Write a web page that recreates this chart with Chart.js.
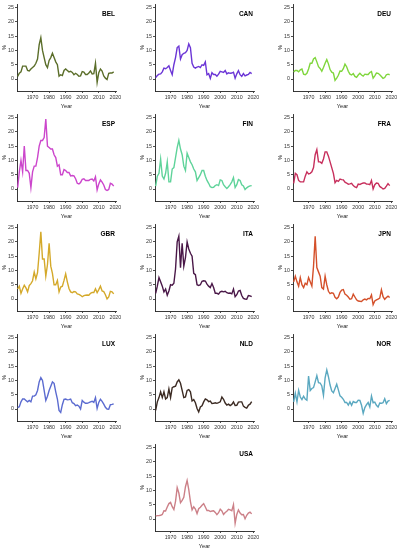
<!DOCTYPE html>
<html>
<head>
<meta charset="utf-8">
<script src="https://cdn.jsdelivr.net/npm/chart.js@4/dist/chart.umd.min.js"></script>
<style>
  body { margin: 0; background: #fff; }
  #wrap { position: relative; width: 399px; height: 550px; }
  canvas { position: absolute; }
</style>
</head>
<body>
<div id="wrap"></div>
<script>
// annual inflation, %, 1961-2019
var years = [1961,1962,1963,1964,1965,1966,1967,1968,1969,1970,
  1971,1972,1973,1974,1975,1976,1977,1978,1979,1980,
  1981,1982,1983,1984,1985,1986,1987,1988,1989,1990,
  1991,1992,1993,1994,1995,1996,1997,1998,1999,2000,
  2001,2002,2003,2004,2005,2006,2007,2008,2009,2010,
  2011,2012,2013,2014,2015,2016,2017,2018,2019];

var countries = ['BEL','CAN','DEU','ESP','FIN','FRA','GBR','ITA','JPN','LUX','NLD','NOR','USA'];

var bel = [0.9,2,2.5,4.5,4.5,4.5,3,2.8,3.5,4, 4.5,5.5,7,12,14.5,10,7.5,5,4,6.5, 7.5,9,7.5,6,5,1,1.5,1.2,3,3.5, 3,2.5,2.7,2.3,1.5,2,1.6,1,1.1,2.6, 2.4,1.6,1.6,2.1,2.8,1.8,1.9,5.5,-1.2,2.2, 3.5,2.8,1.1,0.3,-0.2,2,2.1,2.1,2.5];
var can = [0.5,1.2,1.7,1.8,2.5,3.8,3.6,4,4.6,3, 1.5,5,7.5,11,11.5,7,8.5,9,9.2,10, 12.3,11,5.5,4.2,3.8,4.2,4.4,4,5,4.8, 6,1.5,1.9,0.2,2.2,1.6,1.6,1,1.7,2.7, 2.5,2.3,3,1.8,2.2,2,2.1,2.4,0.3,1.8, 2.9,1.5,0.9,1.9,1.1,1.4,1.6,2.3,1.9];
var deu = [2.5,3,3,2.5,3.2,3.5,1.7,1.5,2,3.5, 5.5,5.5,7,7.5,6,4.3,3.7,2.7,4,5.5, 6.8,5.3,3.3,2.4,2.1,-0.5,0.3,1.3,2.8,2.7, 3.6,5.2,4.3,2.7,1.7,1.4,1.9,0.9,0.6,1.4, 2,1.4,1,1.7,1.6,1.6,2.3,2.6,0.3,1.1, 2.1,2,1.5,0.9,0.2,0.5,1.5,1.7,1.5];
var esp = [0.5,6,10,6,15,6.5,6.5,5.5,0.5,6, 8,8,11,15,17,17,18,24.5,15,14.5, 14,14,12,11,8,8.5,5,5,6.8,6.5, 5.8,5.8,4.6,4.7,4.6,3.6,2,1.8,2.3,3.4, 3.6,3,3,3,3.4,3.5,2.8,4.3,-0.3,1.8, 3.2,2.4,1.4,-0.2,-0.5,-0.2,2,1.7,1];
var fin = [1,4.5,5.5,10.5,4.5,3.5,5.5,9.5,2.5,2.5, 7,7.5,11,14.5,17,14,12,8,6.5,12.5, 11,9.5,8.5,7,6,3,4,5,6.5,6.5, 4.5,3,2,0.8,0.5,0.6,1.2,1.5,1.2,3.2, 3,1.5,0.8,0.2,0.8,1.5,2.5,4,0.5,1.5, 3.3,3,1.5,1.1,-0.2,0.4,0.8,1.1,1.2];
var fra = [2,5.5,5,3,2.5,2.5,2.5,4.5,6,5.3, 5.5,6,7.5,12,13.8,9.5,9.5,9,10.5,13, 13,11.5,9.5,7.5,5.5,2.2,3,2.7,3.5,3.3, 3.2,2.4,2.1,1.7,1.8,2,1.2,0.7,0.5,1.7, 1.6,1.9,2.1,2.1,1.7,1.7,1.5,3,0,1.5, 2.1,2,0.9,0.5,0,0.2,1,1.9,1.2];
var gbr = [3.5,4.5,2,3.5,4.8,3.9,2.5,4.7,5.4,6.4, 9.4,7,9.2,16,23.5,14,14,8,12,19.5, 11.5,9,5,5,6.5,2.5,4.2,4.5,6.5,8.8, 6,3.7,2.5,2.2,2.6,2.5,1.8,1.6,1.3,0.8, 1.2,1.3,1.4,1.3,2,2.3,2.3,3.6,2.2,3.3, 4.5,2.8,2.6,1.5,0,0.7,2.7,2.5,1.8];
var ita = [2,4.5,7.5,6,4.5,2.5,3.5,1.3,2.8,5, 4.8,5.5,10.5,20,22,11,19.5,11.5,14.5,20, 17.5,16,15,9,8.5,5,4.7,5,6.2,6.4, 6.3,5.2,4.5,4,5.4,4,2,2,1.7,2.5, 2.7,2.5,2.7,2.2,2,2.1,1.8,3.5,0.8,1.5, 2.8,3,1.2,0.2,0,-0.1,1.2,1.1,0.8];
var jpn = [6,8,6,4.5,7.5,5,4,5.5,5,7.5, 6,4.5,11.5,22,11,9.5,8,4,3.5,8, 5,2.7,1.9,2.2,2,0.6,0.1,0.7,2.3,3.1, 3.3,1.7,1.3,0.7,-0.1,0.1,1.7,0.7,-0.3,-0.7, -0.8,-0.9,-0.3,0,-0.3,0.2,0.1,1.4,-2,-0.7, -0.3,0,0.3,3.2,0.8,-0.1,0.5,1,0.5];
var lux = [0.5,0.8,2.5,3.5,3.5,3,2.5,3,2.5,4.5, 4.5,5,6.5,9.5,11,10,6.5,3,4.5,6.5, 8,9.5,9,6,3.5,-0.5,-1.2,1.5,3.4,3.5, 3.2,3.3,3.5,2.2,1.9,1.2,1.4,1,0,3, 2.4,2,2,2.2,2.5,2.7,2.3,4,0.2,2.3, 3.4,2.7,1.7,0.6,0,-0.1,1.5,1.6,1.8];
var nld = [-0.5,2.5,4,6,4,6,3.5,4,7,4, 7.5,7.8,8,9.5,10.2,9,6.5,4,4.2,6.5, 6.8,6,2.8,3.3,2.2,0.2,-1,0.7,1.1,2.5, 3.5,3.2,2.6,2.8,1.9,2,2.2,2,2.2,2.5, 4.2,3.4,2.1,1.4,1.7,1.2,1.6,2.5,1.2,1.3, 2.4,2.5,2.5,1,0.6,0.3,1.3,1.7,2.6];
var nor = [2.5,5.5,2.5,6.5,4.2,3.3,4.5,3.5,3.1,11.5, 6.5,7.2,7.5,9.5,11.7,9.2,9.1,8.1,4.8,10.9, 13.7,11.3,8.4,6.3,5.7,7.2,8.7,6.7,4.6,4.1, 3.4,2.3,2.3,1.4,2.5,1.3,2.6,2.3,2.3,3.1, 3,1.3,-1.5,0.5,1.5,2.3,0.7,4.5,2.2,2.4, 1.3,0.7,2.1,2,2.2,3.6,1.9,2.8,3];
var usa = [1,1.2,1.2,1.3,1.6,2.9,2.8,4.2,5.4,5.8, 4.3,3.3,6.2,11,9.1,5.7,6.5,7.6,11.3,13.5, 10.3,6.1,3.2,4.3,3.5,1.9,3.6,4.1,4.8,5.4, 4.2,3,3,2.6,2.8,2.9,2.3,1.5,2.2,3.4, 2.8,1.6,2.3,2.7,3.4,3.2,2.9,5,-1.5,1.6, 3.2,2.1,1.5,1.6,0.1,1.3,2.1,2.4,1.8];

var yTicks = [0, 5, 10, 15, 20, 25];
var xTicks = [1970, 1980, 1990, 2000, 2010, 2020];

var series = [bel, can, deu, esp, fin, fra, gbr, ita, jpn, lux, nld, nor, usa];
var colours = ['#5b6e2a','#6b35d6','#7fd63c','#cc46cc','#5fd39a','#c72f5c','#d4a92a',
  '#4a1848','#d4502a','#5b6bd0','#3b2a22','#5aa8c0','#cc8088'];

var fam = '"Liberation Sans", Arial, sans-serif';
var axisCol = '#222';

// country code in the top right corner of each panel
var labelPlugin = {
  id: 'countryLabel',
  afterDraw: function(chart) {
    var a = chart.chartArea, ctx = chart.ctx;
    ctx.save();
    ctx.font = 'bold 6.5px ' + fam;
    ctx.fillStyle = '#000';
    ctx.textAlign = 'right';
    ctx.fillText(chart.options.plugins.countryLabel.text, a.right - 1, a.top + 12);
    ctx.restore();
  }
};

var wrap = document.getElementById('wrap');

countries.forEach(function(name, i) {
  var col = i % 3, row = Math.floor(i / 3);
  if (i === 12) col = 1;

  var cv = document.createElement('canvas');
  cv.width = 123; cv.height = 110;
  cv.style.left = (col * 138) + 'px';
  cv.style.top = (row * 110) + 'px';
  wrap.appendChild(cv);

  var pts = years.map(function(y, k) { return {x: y, y: series[i][k]}; });

  new Chart(cv, {
    type: 'line',
    data: {
      datasets: [{
        data: pts,
        borderColor: colours[i],
        borderWidth: 1.4,
        pointRadius: 0,
        tension: 0,
        fill: false
      }]
    },
    options: {
      responsive: false,
      animation: false,
      devicePixelRatio: 1,
      layout: { padding: { top: 3, right: 7, left: 0, bottom: 0 } },
      plugins: {
        legend: { display: false },
        tooltip: { enabled: false },
        countryLabel: { text: name }
      },
      scales: {
        x: {
          type: 'linear',
          min: 1960.6, max: 2020.4,
          afterBuildTicks: function(s) { s.ticks = xTicks.map(function(v) { return {value: v}; }); },
          afterFit: function(s) { s.height = 19; },
          ticks: { font: { family: fam, size: 5.3 }, color: '#333', padding: 1, maxRotation: 0, autoSkip: false,
                   callback: function(v) { return String(v); } },
          grid: { drawOnChartArea: false, drawTicks: true, tickLength: 2, color: axisCol, lineWidth: 0.8 },
          border: { display: true, color: axisCol, width: 0.9 },
          title: { display: true, text: 'Year', color: '#222', font: { family: fam, size: 5.6 }, padding: { top: 3.5, bottom: 0 } }
        },
        y: {
          min: -4.2, max: 26.2,
          afterBuildTicks: function(s) { s.ticks = yTicks.map(function(v) { return {value: v}; }); },
          afterFit: function(s) { s.width = 17; },
          ticks: { font: { family: fam, size: 5.3 }, color: '#333', padding: 1,
                   callback: function(v) { return String(v); } },
          grid: { drawOnChartArea: false, drawTicks: true, tickLength: 2, color: axisCol, lineWidth: 0.8 },
          border: { display: true, color: axisCol, width: 0.9 },
          title: { display: true, text: '%', color: '#222', font: { family: fam, size: 5.6 }, padding: { top: 0.8, bottom: 0 } }
        }
      }
    },
    plugins: [labelPlugin]
  });
});
</script>
</body>
</html>
